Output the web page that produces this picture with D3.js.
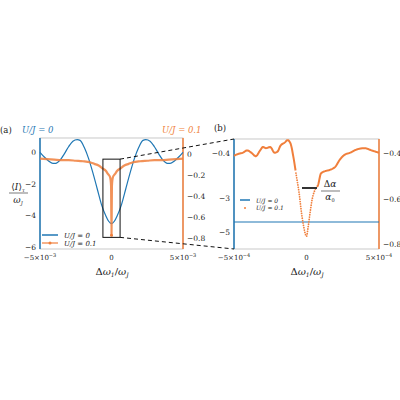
<!DOCTYPE html><html><head><meta charset="utf-8">
<script src="https://cdn.jsdelivr.net/npm/d3@7"></script>
<style>body{margin:0;background:#fff}svg text{font-family:"DejaVu Serif","Liberation Serif",serif}</style></head><body>
<svg id="c" width="400" height="400" font-family="DejaVu Serif, Liberation Serif, serif"></svg>
<script>
const BLUE="#1f77b4", ORANGE="#f07f3c";
// panel (a) data, x in units of 1e-3
const aBlueX=[-5,-4.7,-4.4,-4.1,-3.9,-3.6,-3.3,-3,-2.7,-2.4,-2.2,-1.9,-1.6,-1.3,-1,-0.7,-0.4,-0.2,0,0.2,0.4,0.7,1,1.3,1.6,1.9,2.2,2.4,2.7,3,3.3,3.6,3.9,4.1,4.4,4.7,5];
const aBlueY=[0.1,-0.2,-0.45,-0.6,-0.6,-0.4,0,0.45,0.8,0.9,0.85,0.4,-0.3,-1.2,-2.2,-3.2,-3.9,-4.25,-4.4,-4.25,-3.9,-3.2,-2.2,-1.2,-0.3,0.4,0.85,0.9,0.8,0.45,0,-0.4,-0.6,-0.6,-0.45,-0.2,0.1];
const aOrX=[-5,-4.5,-4,-3.5,-3,-2.5,-2,-1.5,-1.2,-0.9,-0.6,-0.4,-0.25,-0.1,-0.03,0,0.03,0.1,0.25,0.4,0.6,0.9,1.2,1.5,2,2.5,3,3.5,4,4.5,5];
const aOrY=[-0.045,-0.05,-0.055,-0.06,-0.06,-0.065,-0.07,-0.08,-0.095,-0.11,-0.14,-0.16,-0.19,-0.22,-0.3,-0.77,-0.3,-0.22,-0.19,-0.16,-0.14,-0.11,-0.095,-0.08,-0.07,-0.065,-0.06,-0.06,-0.055,-0.05,-0.045];
// panel (b) data, x in units of 1e-4
const bOrX=[-5,-4.7,-4.4,-4.1,-3.8,-3.5,-3.2,-3,-2.8,-2.5,-2.2,-2,-1.8,-1.5,-1.3,-1.1,-0.9,-0.7,-0.5,-0.35,-0.2,-0.1,0,0.1,0.25,0.4,0.6,0.8,1,1.3,1.6,2,2.3,2.6,3,3.5,4,4.5,5];
const bOrY=[-0.413,-0.405,-0.40,-0.39,-0.40,-0.415,-0.39,-0.375,-0.38,-0.375,-0.40,-0.395,-0.37,-0.355,-0.345,-0.36,-0.42,-0.50,-0.58,-0.66,-0.72,-0.75,-0.765,-0.73,-0.66,-0.60,-0.56,-0.54,-0.49,-0.48,-0.475,-0.46,-0.43,-0.41,-0.40,-0.385,-0.38,-0.39,-0.40];
const svg=d3.select("#c");
const ax=d3.scaleLinear().domain([-5,5]).range([40,183]);
const ayL=d3.scaleLinear().domain([-6,1]).range([249,138]);
const ayR=d3.scaleLinear().domain([-0.9,0.15]).range([249,138]);
const bx=d3.scaleLinear().domain([-5,5]).range([234,379]);
const byR=d3.scaleLinear().domain([-0.82,-0.34]).range([249,139]);
function frame(x0,x1,y0,y1){
  svg.append("rect").attr("x",x0).attr("y",y0).attr("width",x1-x0).attr("height",y1-y0).attr("fill","none").attr("stroke","#bbb").attr("stroke-width",0.8);
  svg.append("line").attr("x1",x0).attr("x2",x0).attr("y1",y0).attr("y2",y1).attr("stroke",BLUE).attr("stroke-width",1.5);
  svg.append("line").attr("x1",x1).attr("x2",x1).attr("y1",y0).attr("y2",y1).attr("stroke",ORANGE).attr("stroke-width",1.5);
}
function T(x,y,s,o={}){const t=svg.append("text").attr("x",x).attr("y",y).attr("font-size",o.fs||7.5).attr("fill",o.fill||"#222").attr("text-anchor",o.a||"start").attr("font-style",o.it?"italic":null);t.html(s);return t;}
frame(40,183,138,249);frame(234,379,139,249);
[[0,"0"],[-2,"−2"],[-4,"−4"],[-6,"−6"]].forEach(([v,s])=>T(36,ayL(v)+1,s,{a:"end"}));
[[0,"0"],[-0.2,"−0.2"],[-0.4,"−0.4"],[-0.6,"−0.6"],[-0.8,"−0.8"]].forEach(([v,s])=>T(187,ayR(v)+3,s));
T(ax(-5),260,"−5×10<tspan font-size='5' dy='-3'>−3</tspan>",{a:"middle",fs:7});
T(ax(0),260,"0",{a:"middle",fs:7});
T(ax(5),260,"5×10<tspan font-size='5' dy='-3'>−3</tspan>",{a:"middle",fs:7});
[[bx(-5),"−5×10"],[bx(5),"5×10"]].forEach(([x,s])=>T(x,260,s+"<tspan font-size='5' dy='-3'>−4</tspan>",{a:"middle",fs:7}));
T(bx(0),260,"0",{a:"middle",fs:7});
[[-0.4,"−0.4"],[-0.6,"−0.6"],[-0.8,"−0.8"]].forEach(([v,s])=>T(383,byR(v)+3,s));
[[153,"−0.4"],[198,"−3"],[232,"−5"]].forEach(([y,s])=>T(230,y+3,s,{a:"end"}));
svg.append("path").datum(aBlueX.map((x,i)=>[x,aBlueY[i]])).attr("fill","none").attr("stroke",BLUE).attr("stroke-width",1.2)
 .attr("d",d3.line().x(d=>ax(d[0])).y(d=>ayL(d[1])).curve(d3.curveMonotoneX));
const aOr=aOrX.map((x,i)=>[x,aOrY[i]]);
svg.append("path").datum(aOr).attr("fill","none").attr("stroke",ORANGE).attr("stroke-width",2.2).attr("opacity",0.85)
 .attr("d",d3.line().x(d=>ax(d[0])).y(d=>ayR(d[1])).curve(d3.curveMonotoneX));
svg.append("circle").attr("cx",ax(0)).attr("cy",ayR(-0.77)).attr("r",1.5).attr("fill",ORANGE);
const rx0=ax(-0.6),rx1=ax(0.6),ry0=ayR(-0.05),ry1=ayR(-0.79);
svg.append("rect").attr("x",rx0).attr("y",ry0).attr("width",rx1-rx0).attr("height",ry1-ry0).attr("fill","none").attr("stroke","#111").attr("stroke-width",1);
svg.append("line").attr("x1",rx1).attr("y1",ry0).attr("x2",234).attr("y2",139).attr("stroke","#111").attr("stroke-dasharray","4,3");
svg.append("line").attr("x1",rx1).attr("y1",ry1).attr("x2",234).attr("y2",249).attr("stroke","#111").attr("stroke-dasharray","4,3");
svg.append("line").attr("x1",234).attr("x2",379).attr("y1",222).attr("y2",222).attr("stroke",BLUE).attr("stroke-width",1.2);
const bOr=bOrX.map((x,i)=>[x,bOrY[i]]);
const bl=d3.line().x(d=>bx(d[0])).y(d=>byR(d[1])).curve(d3.curveMonotoneX);
const p=svg.append("path").datum(bOr).attr("fill","none").attr("stroke",ORANGE).attr("stroke-width",2).attr("d",bl).attr("opacity",0);
const node=p.node(),L=node.getTotalLength();
// draw solid outside steep region, dots inside
const pts=[];for(let s=0;s<=L;s+=0.5)pts.push(node.getPointAtLength(s));
const xa=bx(-0.75),xb=bx(0.7);
svg.append("path").attr("d",d3.line().x(d=>d.x).y(d=>d.y)(pts.filter(q=>q.x<=xa))).attr("fill","none").attr("stroke",ORANGE).attr("stroke-width",2);
svg.append("path").attr("d",d3.line().x(d=>d.x).y(d=>d.y)(pts.filter(q=>q.x>=xb))).attr("fill","none").attr("stroke",ORANGE).attr("stroke-width",2);
for(let s=0;s<L;s+=2.4){const pt=node.getPointAtLength(s);if(pt.x>xa&&pt.x<xb)svg.append("circle").attr("cx",pt.x).attr("cy",pt.y).attr("r",0.9).attr("fill",ORANGE);}
svg.append("line").attr("x1",302).attr("x2",317).attr("y1",188).attr("y2",188).attr("stroke","#333").attr("stroke-width",2);
T(330,187,"Δ<tspan font-style='italic'>α</tspan>",{a:"middle",fs:9});
svg.append("line").attr("x1",321).attr("x2",340).attr("y1",191).attr("y2",191).attr("stroke","#222").attr("stroke-width",0.6);
T(330,200,"<tspan font-style='italic'>α</tspan><tspan font-size='5' dy='2'>0</tspan>",{a:"middle",fs:9});
svg.append("line").attr("x1",42).attr("x2",58).attr("y1",235).attr("y2",235).attr("stroke",BLUE).attr("stroke-width",1.5);
svg.append("line").attr("x1",42).attr("x2",58).attr("y1",243).attr("y2",243).attr("stroke",ORANGE).attr("stroke-width",1.2);
svg.append("circle").attr("cx",50).attr("cy",243).attr("r",1.5).attr("fill",ORANGE);
T(64,238,"U/J = 0",{it:1,fs:7});T(64,246,"U/J = 0.1",{it:1,fs:7});
svg.append("line").attr("x1",240).attr("x2",250).attr("y1",200).attr("y2",200).attr("stroke",BLUE).attr("stroke-width",1.5);
svg.append("circle").attr("cx",245).attr("cy",208).attr("r",1).attr("fill",ORANGE);
T(256,203,"U/J = 0",{it:1,fs:6});T(256,210,"U/J = 0.1",{it:1,fs:6});
T(0,133,"(a)",{fs:8.5});T(214,131,"(b)",{fs:8.5});
T(22,133,"U/J = 0",{it:1,fs:8.5,fill:BLUE});T(162,133,"U/J = 0.1",{it:1,fs:8.5,fill:ORANGE});
T(18,190,"⟨<tspan font-style='italic'>I</tspan>⟩<tspan font-size='5' dy='2' font-style='italic'>τ</tspan>",{a:"middle",fs:9});
svg.append("line").attr("x1",9).attr("x2",28).attr("y1",193).attr("y2",193).attr("stroke","#222").attr("stroke-width",0.6);
T(18,203,"<tspan font-style='italic'>ω</tspan><tspan font-size='5' dy='2' font-style='italic'>J</tspan>",{a:"middle",fs:9});
const xl="Δ<tspan font-style='italic'>ω</tspan><tspan font-size='6' dy='2' font-style='italic'>1</tspan><tspan dy='-2'>/</tspan><tspan font-style='italic'>ω</tspan><tspan font-size='6' dy='2' font-style='italic'>J</tspan>";
T(112,275,xl,{a:"middle",fs:10});T(307,275,xl,{a:"middle",fs:10});
</script></body></html>
